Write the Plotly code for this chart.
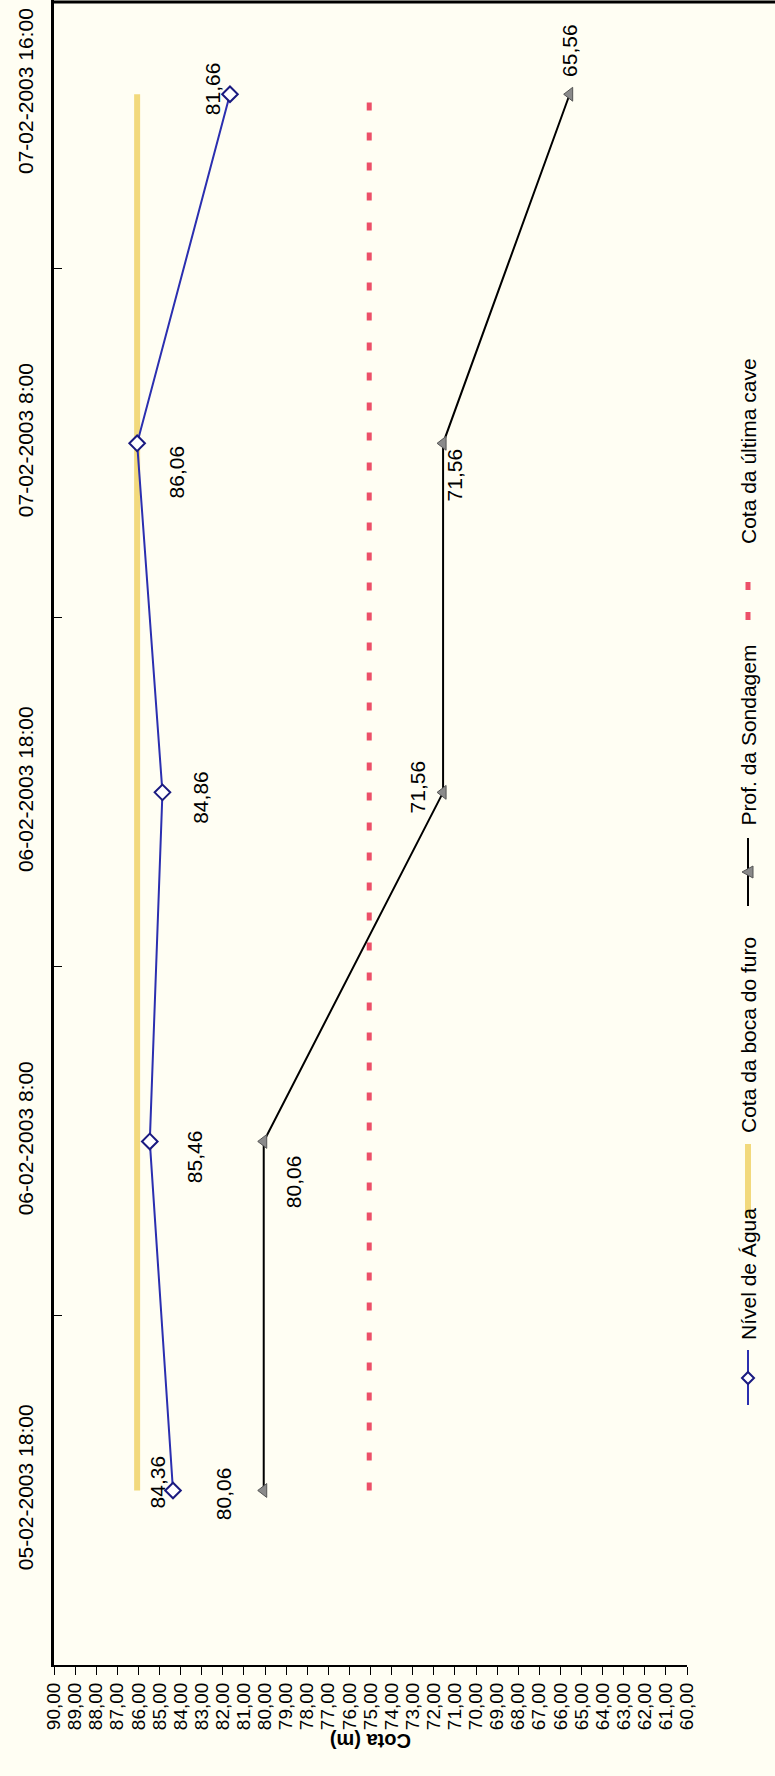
import plotly.graph_objects as go

# ---- data ----
datas = ["05-02-2003 18:00", "06-02-2003 8:00", "06-02-2003 18:00",
         "07-02-2003 8:00", "07-02-2003 16:00"]
nivel_agua = [84.36, 85.46, 84.86, 86.06, 81.66]
cota_boca = [86.06, 86.06, 86.06, 86.06, 86.06]
prof_sondagem = [80.06, 80.06, 71.56, 71.56, 65.56]
cota_cave = [75.06, 75.06, 75.06, 75.06, 75.06]

series_names = ["Nível de Água", "Cota da boca do furo",
                "Prof. da Sondagem", "Cota da última cave"]

# ---- styling ----
FONT = "Liberation Sans, Arial, sans-serif"
BG = "#FFFEF3"
BLUE = "#2B2FB0"
NAVY = "#1A1A80"
YELLOW = "#F2D97C"
RED = "#EC5068"
GREY = "#8A8A8A"

W, H = 775, 1776
L, R, T, B = 54, 88, 0, 111
PW, PH = W - L - R, H - T - B


def px(x):
    return (x - L) / PW


def py(y):
    return (H - B - y) / PH


def fmt(v):
    return f"{v:.2f}".replace(".", ",")


fig = go.Figure()

fig.add_trace(go.Scatter(x=cota_boca, y=datas, mode="lines",
                         line=dict(color=YELLOW, width=6),
                         name=series_names[1], showlegend=False))
fig.add_trace(go.Scatter(x=cota_cave, y=datas, mode="lines",
                         line=dict(color=RED, width=5, dash="8px,22px"),
                         name=series_names[3], showlegend=False))
fig.add_trace(go.Scatter(x=prof_sondagem, y=datas, mode="lines+markers",
                         line=dict(color="black", width=2),
                         marker=dict(symbol="triangle-left", size=12, color=GREY,
                                     line=dict(color="#555555", width=1)),
                         name=series_names[2], showlegend=False))
fig.add_trace(go.Scatter(x=nivel_agua, y=datas, mode="lines+markers",
                         line=dict(color=BLUE, width=2),
                         marker=dict(symbol="diamond", size=12, color="white",
                                     line=dict(color=NAVY, width=2)),
                         name=series_names[0], showlegend=False))

annotations = []

# value labels (rotated like the rest of the chart); offsets in pixels
nivel_off = [(-16, -8), (45, 15), (38, 5), (39, 29), (-18, -6)]
prof_off = [(-40, 3), (30, 40), (-26, -5), (11, 32), (0, -44)]
for vals, offs in ((nivel_agua, nivel_off), (prof_sondagem, prof_off)):
    for cat, v, (dx, dy) in zip(datas, vals, offs):
        annotations.append(dict(x=v, y=cat, xref="x", yref="y", text=fmt(v),
                                showarrow=False, textangle=-90,
                                xshift=dx, yshift=-dy,
                                font=dict(family=FONT, size=21, color="black")))

# axis title
annotations.append(dict(x=0.5, y=py(1754), xref="paper", yref="paper",
                        text="<b>Cota (m)</b>", showarrow=False, textangle=180,
                        font=dict(family=FONT, size=20, color="black")))

# legend, drawn vertically along the right edge
LX = 748
shapes = []
leg_text_y = [1342, 1135, 828, 546]
for name, ty in zip(series_names, leg_text_y):
    annotations.append(dict(x=px(LX), y=py(ty), xref="paper", yref="paper",
                            text=name, showarrow=False, textangle=-90,
                            xanchor="center", yanchor="bottom",
                            font=dict(family=FONT, size=21, color="black")))

shapes.append(dict(type="line", xref="paper", yref="paper",
                   x0=px(LX), x1=px(LX), y0=py(1405), y1=py(1350),
                   line=dict(color=BLUE, width=2)))
cx, cy = LX, 1378
shapes.append(dict(type="path", xref="paper", yref="paper",
                   path=(f"M{px(cx)},{py(cy - 6)} L{px(cx + 6)},{py(cy)} "
                         f"L{px(cx)},{py(cy + 6)} L{px(cx - 6)},{py(cy)} Z"),
                   fillcolor="white", line=dict(color=NAVY, width=2)))
shapes.append(dict(type="line", xref="paper", yref="paper",
                   x0=px(LX), x1=px(LX), y0=py(1218), y1=py(1144),
                   line=dict(color=YELLOW, width=6)))
shapes.append(dict(type="line", xref="paper", yref="paper",
                   x0=px(LX), x1=px(LX), y0=py(906), y1=py(838),
                   line=dict(color="black", width=2)))
cx, cy = LX, 872
shapes.append(dict(type="path", xref="paper", yref="paper",
                   path=(f"M{px(cx - 6)},{py(cy)} L{px(cx + 5)},{py(cy - 6)} "
                         f"L{px(cx + 5)},{py(cy + 6)} Z"),
                   fillcolor=GREY, line=dict(color="#555555", width=1)))
shapes.append(dict(type="line", xref="paper", yref="paper",
                   x0=px(LX), x1=px(LX), y0=py(620), y1=py(570),
                   line=dict(color=RED, width=5, dash="8px,22px")))

# frame line along the top edge
shapes.append(dict(type="line", xref="paper", yref="paper",
                   x0=px(L), x1=px(W), y0=py(2), y1=py(2),
                   line=dict(color="black", width=3)))

fig.update_layout(
    width=W, height=H,
    margin=dict(l=L, r=R, t=T, b=B, pad=0),
    paper_bgcolor=BG, plot_bgcolor=BG,
    separators=",.",
    showlegend=False,
    font=dict(family=FONT, size=21, color="black"),
    annotations=annotations,
    shapes=shapes,
    xaxis=dict(range=[90, 60], tickmode="linear", tick0=60, dtick=1,
               tickformat=".2f", tickangle=-90, ticks="outside", ticklen=8,
               tickcolor="black", showline=True, linecolor="black", linewidth=2,
               showgrid=False, zeroline=False, tickfont=dict(size=19),
               ticklabelstandoff=0),
    yaxis=dict(type="category", categoryorder="array", categoryarray=datas,
               range=[-0.5, 4.27], tickson="boundaries", ticks="inside",
               ticklen=8, tickcolor="black", tickangle=-90,
               showline=True, linecolor="black", linewidth=2.5, showgrid=False,
               zeroline=False, tickfont=dict(size=21), ticklabelstandoff=10),
)

fig.write_html("out.html")
